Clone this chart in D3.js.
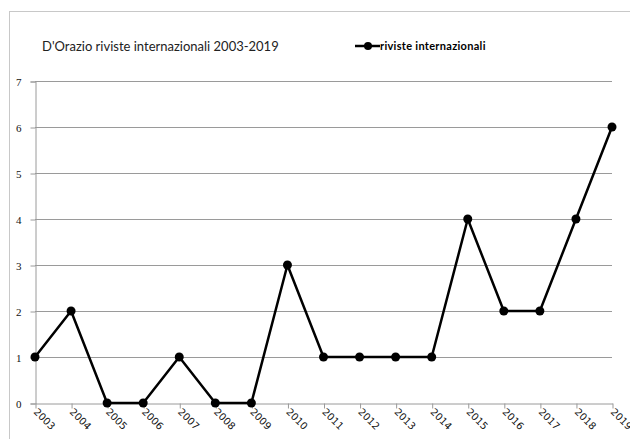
<!DOCTYPE html>
<html>
<head>
<meta charset="utf-8">
<script src="https://cdn.jsdelivr.net/npm/d3@7"></script>
<style>
  html, body { margin: 0; padding: 0; background: #fff; }
  svg { display: block; }
</style>
</head>
<body>
<svg id="chart" width="630" height="439"></svg>
<script>
// Articles in international journals per year
const years = ["2003","2004","2005","2006","2007","2008","2009","2010","2011",
               "2012","2013","2014","2015","2016","2017","2018","2019"];
const riviste = [1, 2, 0, 0, 1, 0, 0, 3, 1, 1, 1, 1, 4, 2, 2, 4, 6];
const yTicks = [0, 1, 2, 3, 4, 5, 6, 7];
const chartTitle = "D'Orazio riviste internazionali 2003-2019";
const seriesName = "riviste internazionali";

const svg = d3.select("#chart");
const plot = { left: 35, right: 612, top: 81, bottom: 403 };

// outer frame
svg.append("rect")
  .attr("x", 9.5).attr("y", 11.5)
  .attr("width", 640).attr("height", 450)
  .attr("fill", "none").attr("stroke", "#c8c8c8").attr("stroke-width", 1);

const x = d3.scalePoint().domain(years).range([plot.left, plot.right]);
const y = d3.scaleLinear().domain([0, 7]).range([plot.bottom, plot.top]);

// horizontal gridlines
svg.append("g")
  .selectAll("line")
  .data(yTicks.filter(d => d > 0))
  .join("line")
  .attr("x1", plot.left).attr("x2", plot.right)
  .attr("y1", d => Math.round(y(d)) + 0.5).attr("y2", d => Math.round(y(d)) + 0.5)
  .attr("stroke", "#9a9a9a").attr("stroke-width", 1);

// y axis
const yAxis = svg.append("g")
  .attr("transform", `translate(${plot.left + 0.5},0.5)`)
  .call(d3.axisLeft(y).tickValues(yTicks).tickSize(5).tickPadding(9).tickFormat(d3.format("d")));
yAxis.select(".domain").attr("stroke", "#9a9a9a");
yAxis.selectAll(".tick line").attr("stroke", "#9a9a9a");
yAxis.selectAll("text")
  .attr("font-family", "'Liberation Serif', serif")
  .attr("font-size", 11).attr("fill", "#111");

// x axis
const xAxis = svg.append("g")
  .attr("transform", `translate(0.5,${plot.bottom + 0.5})`)
  .call(d3.axisBottom(x).tickSize(5).tickSizeOuter(0));
xAxis.select(".domain").attr("stroke", "#9a9a9a");
xAxis.selectAll(".tick line").attr("stroke", "#9a9a9a");
xAxis.selectAll("text")
  .attr("font-family", "'DejaVu Sans', sans-serif")
  .attr("font-size", 10).attr("fill", "#111")
  .attr("text-anchor", "start")
  .attr("dy", null)
  .attr("y", 0)
  .attr("transform", "translate(-3,9) rotate(45)");

// series line
const line = d3.line().x((d, i) => x(years[i])).y(d => y(d));
svg.append("path")
  .datum(riviste)
  .attr("d", line)
  .attr("fill", "none")
  .attr("stroke", "#000")
  .attr("stroke-width", 2.5)
  .attr("stroke-linejoin", "round");

svg.append("g")
  .selectAll("circle")
  .data(riviste)
  .join("circle")
  .attr("cx", (d, i) => x(years[i]))
  .attr("cy", d => y(d))
  .attr("r", 4.5)
  .attr("fill", "#000");

// title
svg.append("text")
  .attr("x", 42).attr("y", 51)
  .attr("font-family", "Lato, 'Open Sans', sans-serif")
  .attr("font-size", 13).attr("fill", "#222")
  .text(chartTitle);

// legend
const lg = svg.append("g").attr("transform", "translate(355,46)");
lg.append("line").attr("x1", 0).attr("x2", 25).attr("y1", 0).attr("y2", 0)
  .attr("stroke", "#000").attr("stroke-width", 2.5);
lg.append("circle").attr("cx", 13).attr("cy", 0).attr("r", 4).attr("fill", "#000");
lg.append("text")
  .attr("x", 25).attr("y", 4)
  .attr("font-family", "Lato, sans-serif")
  .attr("font-weight", "bold")
  .attr("font-size", 11).attr("fill", "#000")
  .attr("letter-spacing", 0.3)
  .text(seriesName);
</script>
</body>
</html>
